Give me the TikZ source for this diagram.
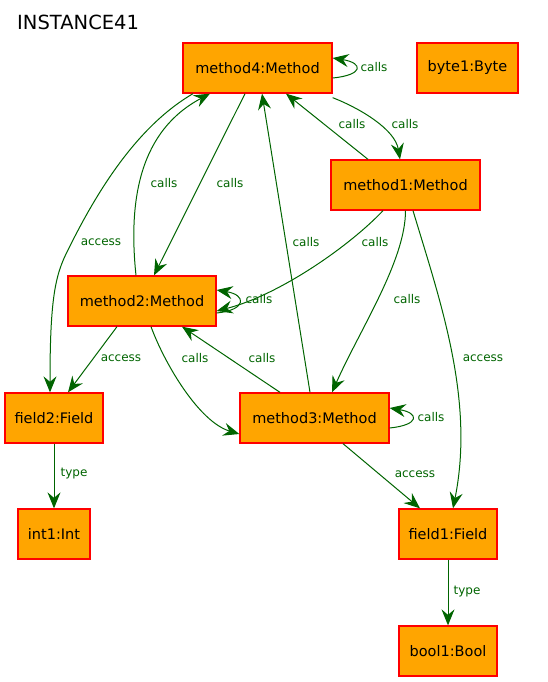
\documentclass[tikz,border=0pt]{standalone}
\usepackage{fontspec}
\setmainfont{DejaVu Sans}
\usetikzlibrary{arrows.meta}
\definecolor{edgegreen}{RGB}{0,100,0}
\definecolor{boxfill}{RGB}{255,165,0}
\definecolor{boxline}{RGB}{255,0,0}
\begin{document}
\begin{tikzpicture}[x=1pt,y=-1pt,
  obj/.style={draw=boxline, fill=boxfill, line width=1.3pt, minimum height=50pt, inner sep=0pt, font=\fontsize{14.5}{17}\selectfont},
  rel/.style={draw=edgegreen, line width=1pt, -{Stealth[length=16pt,width=13pt,inset=5.5pt]}},
  lbl/.style={text=edgegreen, font=\fontsize{12}{14}\selectfont, inner sep=0pt}]
\useasboundingbox (0,0) rectangle (547,682);
\node[anchor=base west, font=\fontsize{19.5}{23}\selectfont, inner sep=0pt] (title) at (17,30) {INSTANCE41};
% nodes
\node[obj, minimum width=149pt] (m4) at (257.5,68) {method4:Method};
\node[obj, minimum width=101pt] (b1) at (467.5,68) {byte1:Byte};
\node[obj, minimum width=149pt] (m1) at (405.5,185) {method1:Method};
\node[obj, minimum width=148pt] (m2) at (142,301) {method2:Method};
\node[obj, minimum width=98pt] (f2) at (54,418) {field2:Field};
\node[obj, minimum width=149pt] (m3) at (314.5,418) {method3:Method};
\node[obj, minimum width=72pt] (i1) at (54,534) {int1:Int};
\node[obj, minimum width=98pt] (f1) at (448,534) {field1:Field};
\node[obj, minimum width=98pt] (bo1) at (448,651) {bool1:Bool};
% self loops
\draw[rel] ([yshift=-10pt]m4.east) .. controls +(31,-3) and +(31,5) .. ([yshift=10pt]m4.east) node[lbl, at={(374,67)}] {calls};
\draw[rel] ([yshift=-12pt]m2.east) .. controls +(30,-3) and +(30,5) .. ([yshift=11pt]m2.east) node[lbl, at={(259,299)}] {calls};
\draw[rel] ([yshift=-10pt]m3.east) .. controls +(30,-3) and +(30,5) .. ([yshift=10pt]m3.east) node[lbl, at={(431,417)}] {calls};
% method4 edges
\draw[rel] ([yshift=-4pt]m4.south east) .. controls +(28,11) and +(-5,-30) .. ([xshift=-5.5pt]m1.north) node[lbl, at={(405,124)}] {calls};
\draw[rel] ([xshift=-37.5pt]m1.north) -- ([xshift=28.5pt]m4.south) node[lbl, at={(352,124)}] {calls};
\draw[rel] ([xshift=-12.5pt]m4.south) -- ([xshift=12pt]m2.north) node[lbl, at={(230,183)}] {calls};
\draw[rel] ([xshift=-6pt]m2.north) .. controls +(-8,-76) and +(-70,37) .. ([xshift=-47.5pt]m4.south) node[lbl, at={(164,183)}] {calls};
\draw[rel] ([xshift=-64.5pt]m4.south) .. controls +(-53,31) and +(32,-65) .. (68,250) .. controls +(-13,25) and +(0,-93) .. ([xshift=-4pt]f2.north) node[lbl, at={(101,242)}] {access};
\draw[rel] ([xshift=-4.5pt]m3.north) -- ([xshift=4.5pt]m4.south) node[lbl, at={(306,242)}] {calls};
% method1 edges
\draw[rel] ([xshift=-22.5pt]m1.south) .. controls +(-33,35) and +(63,-16) .. ([yshift=-10pt]m2.east) node[lbl, at={(375,242)}] {calls};
\draw[rel] (m1.south) .. controls +(0,50) and +(28,-63) .. ([xshift=17.5pt]m3.north) node[lbl, at={(407,299)}] {calls};
\draw[rel] ([xshift=7.5pt]m1.south) .. controls +(27,90) and +(22,-109) .. ([xshift=5pt]f1.north) node[lbl, at={(483,358)}] {access};
% method2 edges
\draw[rel] ([xshift=-25pt]m2.south) -- ([xshift=14pt]f2.north) node[lbl, at={(121,358)}] {access};
\draw[rel] ([xshift=9pt]m2.south) .. controls +(14,38) and +(-40,-12) .. ([yshift=-16pt]m3.west) node[lbl, at={(195,358)}] {calls};
\draw[rel] ([xshift=-34.5pt]m3.north) -- ([xshift=40pt]m2.south) node[lbl, at={(262,358)}] {calls};
% method3 to field1
\draw[rel] ([xshift=28.5pt]m3.south) -- ([xshift=-28pt]f1.north) node[lbl, at={(415,474)}] {access};
% type edges
\draw[rel] (f2.south) -- (i1.north) node[lbl, at={(74,474)}] {type};
\draw[rel] (f1.south) -- (bo1.north) node[lbl, at={(467,592)}] {type};
\end{tikzpicture}
\end{document}
